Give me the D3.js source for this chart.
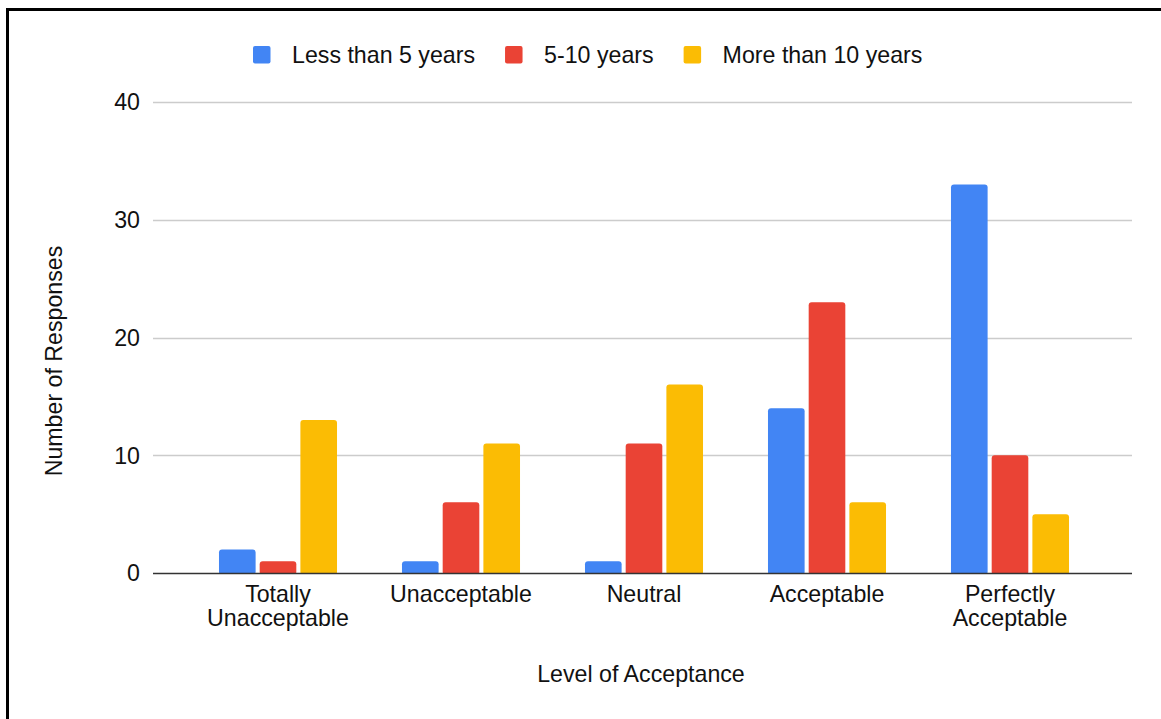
<!DOCTYPE html>
<html>
<head>
<meta charset="utf-8">
<script src="https://cdn.jsdelivr.net/npm/d3@7"></script>
<style>
  html, body { margin: 0; padding: 0; background: #fff; }
  svg { display: block; font-family: "Liberation Sans", Arial, Helvetica, sans-serif; }
</style>
</head>
<body>
<svg id="chart" width="1161" height="719"></svg>
<script>
// Survey responses by level of acceptance, grouped by years of experience
const categories = [
  ["Totally", "Unacceptable"],
  ["Unacceptable"],
  ["Neutral"],
  ["Acceptable"],
  ["Perfectly", "Acceptable"]
];
const seriesNames = ["Less than 5 years", "5-10 years", "More than 10 years"];
const lessThan5 = [2, 1, 1, 14, 33];
const fiveTo10 = [1, 6, 11, 23, 10];
const moreThan10 = [13, 11, 16, 6, 5];
const yTicks = [0, 10, 20, 30, 40];
const colors = ["#4285F4", "#EA4335", "#FBBC04"];

const seriesValues = [lessThan5, fiveTo10, moreThan10];
const catKeys = categories.map(c => c.join(" "));
const FS = 23.2;
const TEXT = "#111";

const svg = d3.select("#chart");

// frame
svg.append("rect")
  .attr("x", 7.5).attr("y", 9.5)
  .attr("width", 1200).attr("height", 800)
  .attr("fill", "none").attr("stroke", "#000").attr("stroke-width", 3);

const plot = { left: 153, right: 1132, top: 102, bottom: 573 };

const y = d3.scaleLinear().domain([0, 40]).range([plot.bottom, plot.top]);
const x0 = d3.scaleBand().domain(catKeys).range([186.5, 1101.5])
  .paddingInner(0.355).paddingOuter(0.1775);
const x1 = d3.scaleBand().domain(seriesNames).range([0, x0.bandwidth()])
  .paddingInner(0.1).paddingOuter(0);

// gridlines
svg.append("g").selectAll("line")
  .data(yTicks.filter(t => t !== 0))
  .join("line")
  .attr("x1", plot.left).attr("x2", plot.right)
  .attr("y1", d => Math.round(y(d)) + 0.5).attr("y2", d => Math.round(y(d)) + 0.5)
  .attr("stroke", "#cccccc").attr("stroke-width", 1.3);

// y tick labels
svg.append("g").selectAll("text")
  .data(yTicks)
  .join("text")
  .attr("x", 140).attr("y", d => y(d))
  .attr("dy", "0.36em")
  .attr("text-anchor", "end")
  .attr("font-size", FS).attr("fill", TEXT)
  .text(d => d);

// bars
const groups = svg.append("g").selectAll("g")
  .data(catKeys)
  .join("g")
  .attr("transform", d => `translate(${x0(d)},0)`);

groups.selectAll("rect")
  .data((d, i) => seriesNames.map((s, j) => ({ s, v: seriesValues[j][i], j })))
  .join("rect")
  .attr("x", d => x1(d.s))
  .attr("y", d => y(d.v))
  .attr("width", x1.bandwidth())
  .attr("height", d => y(0) - y(d.v) + 2)
  .attr("rx", 3)
  .attr("fill", d => colors[d.j]);

// white mask under baseline to square off bottoms
svg.append("rect")
  .attr("x", plot.left).attr("y", plot.bottom + 1)
  .attr("width", plot.right - plot.left).attr("height", 6)
  .attr("fill", "#fff");

// baseline
svg.append("line")
  .attr("x1", plot.left).attr("x2", plot.right)
  .attr("y1", plot.bottom + 0.5).attr("y2", plot.bottom + 0.5)
  .attr("stroke", "#333").attr("stroke-width", 1.5);

// category labels (two-line labels as separate text rows)
const labelRows = [];
categories.forEach((lines, i) => {
  lines.forEach((line, k) => labelRows.push({ key: catKeys[i], line, k }));
});
svg.append("g").selectAll("text")
  .data(labelRows)
  .join("text")
  .attr("x", d => x0(d.key) + x0.bandwidth() / 2)
  .attr("y", d => 602 + d.k * 23.5)
  .attr("text-anchor", "middle")
  .attr("font-size", FS).attr("fill", TEXT)
  .text(d => d.line);

// axis titles
svg.append("text")
  .attr("x", 641).attr("y", 682)
  .attr("text-anchor", "middle")
  .attr("font-size", FS).attr("fill", TEXT)
  .text("Level of Acceptance");

svg.append("text")
  .attr("transform", "translate(62,361) rotate(-90)")
  .attr("text-anchor", "middle")
  .attr("font-size", FS).attr("fill", TEXT)
  .text("Number of Responses");

// legend
const legend = svg.append("g");
let lx = 253;
seriesNames.forEach((name, i) => {
  legend.append("rect")
    .attr("x", lx).attr("y", 46)
    .attr("width", 17.5).attr("height", 17.5)
    .attr("rx", 2)
    .attr("fill", colors[i]);
  const t = legend.append("text")
    .attr("x", lx + 39).attr("y", 55)
    .attr("dy", "0.36em")
    .attr("font-size", FS).attr("fill", TEXT)
    .text(name);
  lx = lx + 39 + t.node().getComputedTextLength() + 30;
});
</script>
</body>
</html>
